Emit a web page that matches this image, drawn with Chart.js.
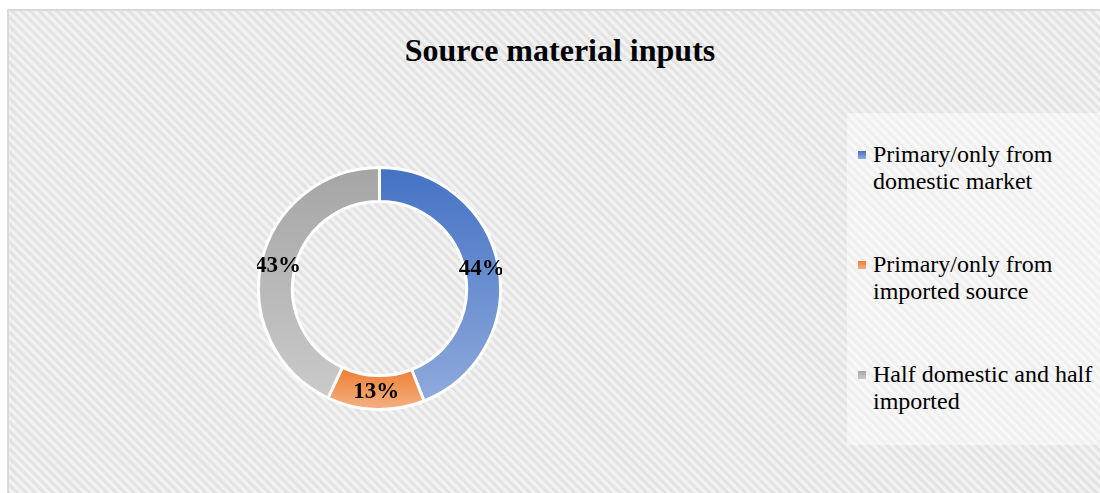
<!DOCTYPE html>
<html>
<head>
<meta charset="utf-8">
<script src="https://cdn.jsdelivr.net/npm/chart.js@4/dist/chart.umd.min.js"></script>
<style>
  html, body { margin: 0; padding: 0; width: 1100px; height: 493px; overflow: hidden; background: #fff; }
  #frame {
    position: absolute; left: 7px; top: 9px; width: 1120px; height: 500px;
    box-sizing: border-box; border: 2px solid #d9d9d9;
    background: repeating-linear-gradient(45deg, #f6f6f6 0px, #dfdfdf 3.2px, #f6f6f6 6.36px);
  }
  #title {
    position: absolute; left: 560px; top: 31px; transform: translateX(-50%);
    font: bold 32px "Liberation Serif", "Times New Roman", serif; line-height: 38px;
    color: #000; white-space: nowrap;
  }
  #donut { position: absolute; left: 257px; top: 166px; }
  #legendBox {
    position: absolute; left: 847px; top: 113px; width: 300px; height: 332px;
    background: rgba(255,255,255,0.45);
  }
  #legend { position: absolute; left: 858px; top: 141px; margin: 0; padding: 0; list-style: none; }
  #legend li {
    position: relative; width: 240px; padding-left: 15px; margin-bottom: 56px;
    font: 24px "Liberation Serif", "Times New Roman", serif; line-height: 27px; color: #000;
  }
  #legend li span.mark { position: absolute; left: 0; top: 10px; width: 8px; height: 8px; }
</style>
</head>
<body>
<div id="frame"></div>
<div id="title">Source material inputs</div>
<canvas id="donut" width="245" height="245"></canvas>
<div id="legendBox"></div>
<ul id="legend"></ul>
<script>
  'use strict';

  var categories   = ['Primary/only from domestic market', 'Primary/only from imported source', 'Half domestic and half imported'];
  var shares       = [44, 13, 43];
  var topColors    = ['#4472c4', '#ed7d31', '#a5a5a5'];
  var bottomColors = ['#8faadc', '#f4b183', '#cacaca'];

  var BORDER = 3;
  var CUTOUT = 72;

  // vertical extent of one ring slice, so each slice gets its own top-to-bottom gradient
  function sliceSpan(area, index) {
    var total = shares.reduce(function (a, b) { return a + b; }, 0);
    var before = 0;
    for (var i = 0; i < index; i++) before += shares[i];
    var a0 = -Math.PI / 2 + 2 * Math.PI * before / total;
    var a1 = a0 + 2 * Math.PI * shares[index] / total;
    var cy = (area.top + area.bottom) / 2;
    var ro = (Math.min(area.width, area.height) - BORDER) / 2;
    var ri = ro * CUTOUT / 100;
    var ys = [a0, a1].reduce(function (list, a) {
      return list.concat([cy + ro * Math.sin(a), cy + ri * Math.sin(a)]);
    }, []);
    var min = Math.min.apply(null, ys), max = Math.max.apply(null, ys);
    if (a0 <= -Math.PI / 2 || a1 >= 3 * Math.PI / 2) min = cy - ro;
    if (a0 <= Math.PI / 2 && a1 >= Math.PI / 2) max = cy + ro;
    return [min, max];
  }

  function sliceFill(context) {
    var chart = context.chart;
    if (!chart.chartArea) return topColors[context.dataIndex];
    var span = sliceSpan(chart.chartArea, context.dataIndex);
    var g = chart.ctx.createLinearGradient(0, span[0], 0, span[1]);
    g.addColorStop(0, topColors[context.dataIndex]);
    g.addColorStop(1, bottomColors[context.dataIndex]);
    return g;
  }

  var percentLabels = {
    id: 'percentLabels',
    afterDatasetsDraw: function (chart) {
      var ctx = chart.ctx;
      ctx.save();
      ctx.font = 'bold 23px "Liberation Serif", "Times New Roman", serif';
      ctx.fillStyle = '#000';
      ctx.textAlign = 'center';
      ctx.textBaseline = 'middle';
      chart.getDatasetMeta(0).data.forEach(function (arc, i) {
        var p = arc.tooltipPosition();
        ctx.fillText(shares[i] + '%', p.x, p.y);
      });
      ctx.restore();
    }
  };

  var htmlLegend = {
    id: 'htmlLegend',
    afterUpdate: function (chart) {
      var list = document.getElementById('legend');
      list.innerHTML = '';
      chart.data.labels.forEach(function (text, i) {
        var li = document.createElement('li');
        var mark = document.createElement('span');
        mark.className = 'mark';
        mark.style.background = 'linear-gradient(' + topColors[i] + ', ' + bottomColors[i] + ')';
        li.appendChild(mark);
        li.appendChild(document.createTextNode(text));
        list.appendChild(li);
      });
    }
  };

  new Chart(document.getElementById('donut'), {
    type: 'doughnut',
    data: {
      labels: categories,
      datasets: [{
        data: shares,
        backgroundColor: sliceFill,
        borderColor: '#ffffff',
        borderWidth: BORDER,
        hoverBorderWidth: BORDER
      }]
    },
    options: {
      responsive: false,
      animation: false,
      events: [],
      cutout: CUTOUT + '%',
      plugins: {
        legend: { display: false },
        tooltip: { enabled: false },
        title: { display: false }
      }
    },
    plugins: [percentLabels, htmlLegend]
  });
</script>
</body>
</html>
